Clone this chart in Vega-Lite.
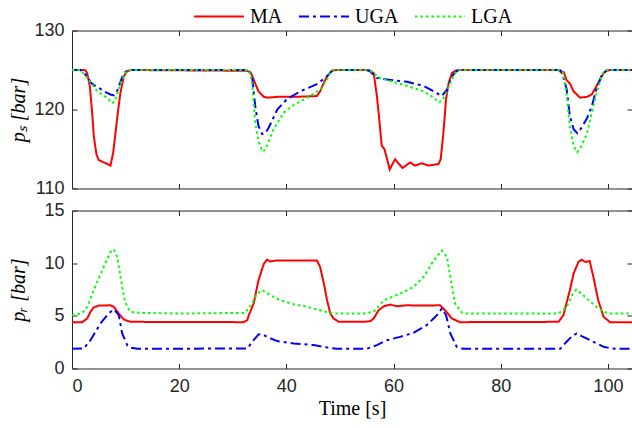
{
  "$schema": "https://vega.github.io/schema/vega-lite/v6.json",
  "background": "white",
  "padding": {"left": 8, "top": -9.5, "right": 0, "bottom": 0},
  "spacing": 2,
  "datasets": {
    "ps": [
      {"t":0,"v":125,"s":"MA"},{"t":2.1,"v":125,"s":"MA"},{"t":2.52,"v":124.95,"s":"MA"},{"t":2.83,"v":124.6,"s":"MA"},{"t":3.33,"v":122.95,"s":"MA"},{"t":3.76,"v":119.6,"s":"MA"},{"t":4.07,"v":116.6,"s":"MA"},{"t":4.57,"v":114.3,"s":"MA"},{"t":5.0,"v":113.6,"s":"MA"},{"t":5.94,"v":113.3,"s":"MA"},{"t":6.6,"v":113.1,"s":"MA"},{"t":7.18,"v":112.9,"s":"MA"},{"t":7.68,"v":114.5,"s":"MA"},{"t":8.11,"v":117.0,"s":"MA"},{"t":8.55,"v":119.6,"s":"MA"},{"t":9.04,"v":122.1,"s":"MA"},{"t":9.67,"v":124.2,"s":"MA"},{"t":10.3,"v":124.85,"s":"MA"},{"t":11.0,"v":125,"s":"MA"},
      {"t":32.7,"v":124.9,"s":"MA"},{"t":33.4,"v":124.6,"s":"MA"},{"t":34.0,"v":123.6,"s":"MA"},{"t":34.8,"v":122.3,"s":"MA"},{"t":35.8,"v":121.6,"s":"MA"},{"t":36.4,"v":121.5,"s":"MA"},{"t":38.3,"v":121.6,"s":"MA"},{"t":41.4,"v":121.6,"s":"MA"},{"t":45.7,"v":121.7,"s":"MA"},{"t":46.3,"v":122.3,"s":"MA"},{"t":47.0,"v":123.4,"s":"MA"},{"t":47.6,"v":124.2,"s":"MA"},{"t":48.5,"v":124.9,"s":"MA"},{"t":49.2,"v":125,"s":"MA"},
      {"t":55.0,"v":125,"s":"MA"},{"t":55.66,"v":124.9,"s":"MA"},{"t":56.3,"v":124.6,"s":"MA"},{"t":56.9,"v":121.7,"s":"MA"},{"t":57.4,"v":118.3,"s":"MA"},{"t":57.8,"v":115.4,"s":"MA"},{"t":58.3,"v":115.0,"s":"MA"},{"t":58.8,"v":113.7,"s":"MA"},{"t":59.3,"v":112.4,"s":"MA"},{"t":59.9,"v":113.2,"s":"MA"},{"t":60.3,"v":113.7,"s":"MA"},{"t":60.9,"v":113.2,"s":"MA"},{"t":61.7,"v":112.6,"s":"MA"},{"t":62.5,"v":113.0,"s":"MA"},{"t":63.1,"v":113.3,"s":"MA"},{"t":64.0,"v":112.9,"s":"MA"},{"t":65.3,"v":113.2,"s":"MA"},{"t":66.5,"v":112.9,"s":"MA"},{"t":68.4,"v":113.1,"s":"MA"},{"t":68.8,"v":113.7,"s":"MA"},{"t":69.3,"v":117.0,"s":"MA"},{"t":69.8,"v":121.3,"s":"MA"},{"t":70.3,"v":123.4,"s":"MA"},{"t":70.9,"v":124.6,"s":"MA"},{"t":71.5,"v":124.9,"s":"MA"},{"t":72.2,"v":125,"s":"MA"},
      {"t":90.8,"v":125,"s":"MA"},{"t":91.4,"v":124.6,"s":"MA"},{"t":91.8,"v":124.7,"s":"MA"},{"t":92.3,"v":123.7,"s":"MA"},{"t":92.9,"v":123.3,"s":"MA"},{"t":93.6,"v":122.3,"s":"MA"},{"t":94.8,"v":121.5,"s":"MA"},{"t":96.1,"v":121.6,"s":"MA"},{"t":97.0,"v":121.9,"s":"MA"},{"t":97.9,"v":123.0,"s":"MA"},{"t":99.2,"v":124.6,"s":"MA"},{"t":99.8,"v":124.9,"s":"MA"},{"t":100.5,"v":125,"s":"MA"},{"t":104.5,"v":125,"s":"MA"},

      {"t":0,"v":125,"s":"UGA"},{"t":1.6,"v":125,"s":"UGA"},{"t":2.83,"v":124.2,"s":"UGA"},{"t":3.5,"v":123.4,"s":"UGA"},{"t":4.07,"v":123.1,"s":"UGA"},{"t":5.32,"v":122.6,"s":"UGA"},{"t":5.94,"v":122.3,"s":"UGA"},{"t":7.18,"v":121.9,"s":"UGA"},{"t":7.8,"v":121.8,"s":"UGA"},{"t":8.4,"v":122.3,"s":"UGA"},{"t":8.74,"v":122.9,"s":"UGA"},{"t":9.2,"v":123.8,"s":"UGA"},{"t":9.67,"v":124.6,"s":"UGA"},{"t":10.3,"v":124.9,"s":"UGA"},{"t":11.0,"v":125,"s":"UGA"},
      {"t":33.0,"v":125,"s":"UGA"},{"t":33.6,"v":124.2,"s":"UGA"},{"t":34.2,"v":120.4,"s":"UGA"},{"t":34.8,"v":117.9,"s":"UGA"},{"t":35.5,"v":116.9,"s":"UGA"},{"t":36.1,"v":117.0,"s":"UGA"},{"t":36.7,"v":117.7,"s":"UGA"},{"t":38.3,"v":120.0,"s":"UGA"},{"t":40.1,"v":121.3,"s":"UGA"},{"t":42.6,"v":122.3,"s":"UGA"},{"t":45.7,"v":123.2,"s":"UGA"},{"t":47.6,"v":124.2,"s":"UGA"},{"t":48.5,"v":124.9,"s":"UGA"},{"t":49.2,"v":125,"s":"UGA"},
      {"t":54.8,"v":125,"s":"UGA"},{"t":55.5,"v":124.9,"s":"UGA"},{"t":56.9,"v":124.0,"s":"UGA"},{"t":58.8,"v":123.8,"s":"UGA"},{"t":62.5,"v":123.5,"s":"UGA"},{"t":65.6,"v":123.0,"s":"UGA"},{"t":67.5,"v":122.3,"s":"UGA"},{"t":69.0,"v":121.7,"s":"UGA"},{"t":69.97,"v":122.5,"s":"UGA"},{"t":70.9,"v":124.2,"s":"UGA"},{"t":71.8,"v":124.9,"s":"UGA"},{"t":72.3,"v":125,"s":"UGA"},
      {"t":91.0,"v":125,"s":"UGA"},{"t":91.4,"v":124.8,"s":"UGA"},{"t":92.3,"v":122.6,"s":"UGA"},{"t":92.9,"v":119.2,"s":"UGA"},{"t":93.6,"v":117.5,"s":"UGA"},{"t":94.3,"v":117.0,"s":"UGA"},{"t":95.1,"v":117.7,"s":"UGA"},{"t":96.1,"v":118.9,"s":"UGA"},{"t":97.0,"v":120.4,"s":"UGA"},{"t":97.9,"v":122.7,"s":"UGA"},{"t":98.9,"v":124.4,"s":"UGA"},{"t":99.8,"v":125,"s":"UGA"},{"t":104.5,"v":125,"s":"UGA"},

      {"t":0,"v":125,"s":"LGA"},{"t":1.6,"v":125,"s":"LGA"},{"t":2.83,"v":124.0,"s":"LGA"},{"t":4.07,"v":122.9,"s":"LGA"},{"t":4.7,"v":122.3,"s":"LGA"},{"t":5.6,"v":121.9,"s":"LGA"},{"t":6.56,"v":121.5,"s":"LGA"},{"t":7.49,"v":120.8,"s":"LGA"},{"t":8.0,"v":121.0,"s":"LGA"},{"t":8.4,"v":121.9,"s":"LGA"},{"t":8.9,"v":122.9,"s":"LGA"},{"t":9.36,"v":123.8,"s":"LGA"},{"t":10.3,"v":124.9,"s":"LGA"},{"t":11.0,"v":125,"s":"LGA"},
      {"t":33.0,"v":125,"s":"LGA"},{"t":33.2,"v":124.6,"s":"LGA"},{"t":33.6,"v":123.4,"s":"LGA"},{"t":34.2,"v":118.3,"s":"LGA"},{"t":34.8,"v":116.0,"s":"LGA"},{"t":35.5,"v":114.7,"s":"LGA"},{"t":36.1,"v":114.9,"s":"LGA"},{"t":36.7,"v":116.0,"s":"LGA"},{"t":37.6,"v":117.5,"s":"LGA"},{"t":39.5,"v":119.6,"s":"LGA"},{"t":41.4,"v":120.6,"s":"LGA"},{"t":43.9,"v":121.5,"s":"LGA"},{"t":46.3,"v":122.5,"s":"LGA"},{"t":47.6,"v":123.8,"s":"LGA"},{"t":48.3,"v":124.9,"s":"LGA"},{"t":49.0,"v":125,"s":"LGA"},
      {"t":55.0,"v":125,"s":"LGA"},{"t":55.66,"v":124.9,"s":"LGA"},{"t":57.5,"v":124.0,"s":"LGA"},{"t":59.4,"v":123.6,"s":"LGA"},{"t":62.5,"v":123.0,"s":"LGA"},{"t":65.6,"v":122.3,"s":"LGA"},{"t":67.5,"v":121.5,"s":"LGA"},{"t":68.4,"v":120.9,"s":"LGA"},{"t":69.0,"v":121.1,"s":"LGA"},{"t":69.6,"v":121.7,"s":"LGA"},{"t":70.6,"v":123.4,"s":"LGA"},{"t":71.5,"v":124.6,"s":"LGA"},{"t":72.1,"v":125,"s":"LGA"},
      {"t":91.2,"v":125,"s":"LGA"},{"t":91.7,"v":124.6,"s":"LGA"},{"t":92.3,"v":121.9,"s":"LGA"},{"t":92.9,"v":117.9,"s":"LGA"},{"t":93.6,"v":115.4,"s":"LGA"},{"t":94.3,"v":114.6,"s":"LGA"},{"t":95.1,"v":115.4,"s":"LGA"},{"t":96.1,"v":117.0,"s":"LGA"},{"t":97.0,"v":119.6,"s":"LGA"},{"t":97.9,"v":122.1,"s":"LGA"},{"t":98.9,"v":124.4,"s":"LGA"},{"t":99.5,"v":125,"s":"LGA"},{"t":104.5,"v":125,"s":"LGA"}
    ],
    "pr": [
      {"t":0,"v":4.4,"s":"MA"},{"t":1.9,"v":4.4,"s":"MA"},{"t":2.83,"v":4.75,"s":"MA"},{"t":3.45,"v":5.38,"s":"MA"},{"t":4.07,"v":5.8,"s":"MA"},{"t":5.0,"v":5.97,"s":"MA"},{"t":7.18,"v":6.0,"s":"MA"},{"t":7.8,"v":5.85,"s":"MA"},{"t":8.74,"v":5.22,"s":"MA"},{"t":9.67,"v":4.65,"s":"MA"},{"t":10.9,"v":4.43,"s":"MA"},
      {"t":32.0,"v":4.4,"s":"MA"},{"t":32.7,"v":4.59,"s":"MA"},{"t":33.0,"v":5.06,"s":"MA"},{"t":33.9,"v":6.17,"s":"MA"},{"t":34.8,"v":8.38,"s":"MA"},{"t":35.8,"v":9.95,"s":"MA"},{"t":36.4,"v":10.33,"s":"MA"},{"t":37.0,"v":10.17,"s":"MA"},{"t":38.3,"v":10.26,"s":"MA"},{"t":45.7,"v":10.26,"s":"MA"},{"t":46.3,"v":9.64,"s":"MA"},{"t":47.0,"v":8.06,"s":"MA"},{"t":47.6,"v":6.48,"s":"MA"},{"t":48.2,"v":5.22,"s":"MA"},{"t":48.8,"v":4.75,"s":"MA"},{"t":49.8,"v":4.43,"s":"MA"},
      {"t":54.4,"v":4.43,"s":"MA"},{"t":55.7,"v":4.5,"s":"MA"},{"t":56.3,"v":4.75,"s":"MA"},{"t":57.2,"v":5.53,"s":"MA"},{"t":58.2,"v":5.91,"s":"MA"},{"t":59.4,"v":6.07,"s":"MA"},{"t":60.6,"v":5.91,"s":"MA"},{"t":62.5,"v":6.0,"s":"MA"},{"t":65.6,"v":5.97,"s":"MA"},{"t":68.7,"v":6.0,"s":"MA"},{"t":69.6,"v":5.53,"s":"MA"},{"t":70.9,"v":4.75,"s":"MA"},{"t":72.4,"v":4.4,"s":"MA"},
      {"t":90.8,"v":4.43,"s":"MA"},{"t":91.7,"v":5.06,"s":"MA"},{"t":92.9,"v":7.43,"s":"MA"},{"t":93.6,"v":9.01,"s":"MA"},{"t":94.5,"v":10.11,"s":"MA"},{"t":95.1,"v":10.33,"s":"MA"},{"t":95.8,"v":10.11,"s":"MA"},{"t":96.6,"v":10.2,"s":"MA"},{"t":97.3,"v":8.68,"s":"MA"},{"t":98.2,"v":6.48,"s":"MA"},{"t":99.2,"v":4.9,"s":"MA"},{"t":100.4,"v":4.4,"s":"MA"},{"t":104.5,"v":4.4,"s":"MA"},

      {"t":0,"v":1.87,"s":"UGA"},{"t":2.2,"v":1.9,"s":"UGA"},{"t":3.45,"v":2.69,"s":"UGA"},{"t":4.4,"v":3.5,"s":"UGA"},{"t":5.32,"v":4.27,"s":"UGA"},{"t":6.3,"v":4.9,"s":"UGA"},{"t":7.18,"v":5.37,"s":"UGA"},{"t":7.68,"v":5.6,"s":"UGA"},{"t":8.2,"v":5.4,"s":"UGA"},{"t":8.74,"v":5.06,"s":"UGA"},{"t":9.36,"v":3.33,"s":"UGA"},{"t":10.3,"v":2.22,"s":"UGA"},{"t":10.9,"v":1.97,"s":"UGA"},{"t":12.2,"v":1.87,"s":"UGA"},
      {"t":32.7,"v":1.9,"s":"UGA"},{"t":33.9,"v":2.69,"s":"UGA"},{"t":34.8,"v":3.23,"s":"UGA"},{"t":35.5,"v":3.26,"s":"UGA"},{"t":36.4,"v":3.0,"s":"UGA"},{"t":38.3,"v":2.6,"s":"UGA"},{"t":41.4,"v":2.38,"s":"UGA"},{"t":45.1,"v":2.22,"s":"UGA"},{"t":47.6,"v":2.0,"s":"UGA"},{"t":49.4,"v":1.87,"s":"UGA"},
      {"t":55.0,"v":1.87,"s":"UGA"},{"t":56.9,"v":2.22,"s":"UGA"},{"t":58.8,"v":2.69,"s":"UGA"},{"t":61.2,"v":3.0,"s":"UGA"},{"t":63.7,"v":3.39,"s":"UGA"},{"t":66.2,"v":4.12,"s":"UGA"},{"t":68.1,"v":5.06,"s":"UGA"},{"t":69.0,"v":5.69,"s":"UGA"},{"t":69.8,"v":5.06,"s":"UGA"},{"t":70.6,"v":3.33,"s":"UGA"},{"t":71.8,"v":2.06,"s":"UGA"},{"t":73.0,"v":1.87,"s":"UGA"},
      {"t":91.1,"v":1.87,"s":"UGA"},{"t":92.3,"v":2.54,"s":"UGA"},{"t":93.3,"v":3.08,"s":"UGA"},{"t":94.2,"v":3.33,"s":"UGA"},{"t":95.1,"v":3.08,"s":"UGA"},{"t":96.4,"v":2.77,"s":"UGA"},{"t":97.9,"v":2.38,"s":"UGA"},{"t":99.2,"v":2.06,"s":"UGA"},{"t":100.4,"v":1.93,"s":"UGA"},{"t":101.6,"v":1.87,"s":"UGA"},{"t":104.5,"v":1.87,"s":"UGA"},

      {"t":0,"v":5.06,"s":"LGA"},{"t":1.58,"v":5.2,"s":"LGA"},{"t":2.52,"v":5.53,"s":"LGA"},{"t":3.3,"v":6.4,"s":"LGA"},{"t":4.07,"v":7.43,"s":"LGA"},{"t":4.85,"v":8.4,"s":"LGA"},{"t":5.63,"v":9.32,"s":"LGA"},{"t":6.4,"v":10.2,"s":"LGA"},{"t":7.18,"v":11.06,"s":"LGA"},{"t":7.8,"v":11.3,"s":"LGA"},{"t":8.42,"v":10.6,"s":"LGA"},{"t":8.9,"v":9.2,"s":"LGA"},{"t":9.36,"v":7.74,"s":"LGA"},{"t":9.8,"v":6.6,"s":"LGA"},{"t":10.3,"v":5.85,"s":"LGA"},{"t":10.9,"v":5.38,"s":"LGA"},{"t":12.8,"v":5.28,"s":"LGA"},{"t":20,"v":5.22,"s":"LGA"},
      {"t":32.3,"v":5.28,"s":"LGA"},{"t":33.6,"v":6.17,"s":"LGA"},{"t":34.5,"v":7.1,"s":"LGA"},{"t":35.5,"v":7.43,"s":"LGA"},{"t":37.0,"v":6.95,"s":"LGA"},{"t":38.9,"v":6.48,"s":"LGA"},{"t":41.4,"v":6.1,"s":"LGA"},{"t":43.9,"v":5.85,"s":"LGA"},{"t":46.3,"v":5.53,"s":"LGA"},{"t":48.2,"v":5.28,"s":"LGA"},{"t":49.4,"v":5.22,"s":"LGA"},
      {"t":54.4,"v":5.22,"s":"LGA"},{"t":56.3,"v":5.38,"s":"LGA"},{"t":58.2,"v":6.48,"s":"LGA"},{"t":61.2,"v":7.1,"s":"LGA"},{"t":63.7,"v":7.74,"s":"LGA"},{"t":65.6,"v":8.68,"s":"LGA"},{"t":67.5,"v":10.26,"s":"LGA"},{"t":69.0,"v":11.2,"s":"LGA"},{"t":69.97,"v":10.58,"s":"LGA"},{"t":70.6,"v":8.68,"s":"LGA"},{"t":71.5,"v":6.17,"s":"LGA"},{"t":72.8,"v":5.28,"s":"LGA"},{"t":73.7,"v":5.22,"s":"LGA"},
      {"t":90.8,"v":5.22,"s":"LGA"},{"t":92.3,"v":5.85,"s":"LGA"},{"t":93.3,"v":6.95,"s":"LGA"},{"t":94.1,"v":7.49,"s":"LGA"},{"t":95.1,"v":7.1,"s":"LGA"},{"t":96.4,"v":6.48,"s":"LGA"},{"t":97.9,"v":5.85,"s":"LGA"},{"t":99.2,"v":5.38,"s":"LGA"},{"t":100.4,"v":5.22,"s":"LGA"},{"t":104.5,"v":5.22,"s":"LGA"}
    ]
  },
  "config": {
    "view": {"stroke": "#262626", "strokeWidth": 1},
    "axis": {"grid": false, "domain": false, "tickSize": -5, "tickColor": "#262626", "tickWidth": 1, "labelFont": "Liberation Sans", "labelFontSize": 18, "labelColor": "#262626", "labelPadding": 13, "titleFont": "Liberation Serif", "titleFontSize": 20, "titleFontWeight": "normal", "titleColor": "#000000"}
  },
  "resolve": {"scale": {"y": "independent", "color": "shared", "strokeDash": "shared", "strokeWidth": "shared"}},
  "vconcat": [
    {
      "width": 560, "height": 158,
      "data": {"name": "ps"},
      "layer": [
        {
          "mark": {"type": "line", "clip": true},
          "encoding": {
            "x": {"field": "t", "type": "quantitative", "scale": {"domain": [0, 104.5], "nice": false, "zero": false}, "axis": {"orient": "bottom", "values": [0,20,40,60,80,100], "labels": false, "title": null, "minExtent": 0, "maxExtent": 0}},
            "y": {"field": "v", "type": "quantitative", "scale": {"domain": [110, 130], "nice": false, "zero": false}, "axis": {"orient": "left", "values": [110,120,130], "title": "pₛ [bar]", "titleFontStyle": "italic", "titlePadding": 5}},
            "color": {"field": "s", "type": "nominal", "scale": {"domain": ["MA","UGA","LGA"], "range": ["#ff0000","#0000ff","#00ff00"]},
              "legend": {"title": null, "orient": "none", "legendX": 121, "legendY": -40, "direction": "horizontal", "symbolType": "stroke", "symbolSize": 2500, "labelFont": "Liberation Serif", "labelFontSize": 20, "labelColor": "#000000", "labelOffset": 5, "columnPadding": 12, "padding": 0}},
            "strokeDash": {"field": "s", "type": "nominal", "scale": {"domain": ["MA","UGA","LGA"], "range": [[1,0],[10,4,3,4],[2.5,3]]}},
            "strokeWidth": {"field": "s", "type": "ordinal", "scale": {"domain": ["MA","UGA","LGA"], "range": [2,2,3]}}
          }
        },
        {
          "mark": {"type": "point", "opacity": 0},
          "encoding": {
            "x": {"field": "t", "type": "quantitative", "axis": {"orient": "top", "values": [0,20,40,60,80,100], "labels": false, "title": null, "minExtent": 0, "maxExtent": 0}},
            "y": {"field": "v", "type": "quantitative", "axis": {"orient": "right", "values": [110,120,130], "labels": false, "title": null, "minExtent": 0, "maxExtent": 0}}
          }
        }
      ]
    },
    {
      "width": 560, "height": 158,
      "data": {"name": "pr"},
      "layer": [
        {
          "mark": {"type": "line", "clip": true},
          "encoding": {
            "x": {"field": "t", "type": "quantitative", "scale": {"domain": [0, 104.5], "nice": false, "zero": false}, "axis": {"orient": "bottom", "values": [0,20,40,60,80,100], "title": "Time [s]", "titlePadding": 3, "labelPadding": 14}},
            "y": {"field": "v", "type": "quantitative", "scale": {"domain": [0, 15], "nice": false, "zero": false}, "axis": {"orient": "left", "values": [0,5,10,15], "title": "pᵣ [bar]", "titleFontStyle": "italic", "titlePadding": 15}},
            "color": {"field": "s", "type": "nominal", "scale": {"domain": ["MA","UGA","LGA"], "range": ["#ff0000","#0000ff","#00ff00"]},
              "legend": {"title": null, "orient": "none", "legendX": 121, "legendY": -40, "direction": "horizontal", "symbolType": "stroke", "symbolSize": 2500, "labelFont": "Liberation Serif", "labelFontSize": 20, "labelColor": "#000000", "labelOffset": 5, "columnPadding": 12, "padding": 0}},
            "strokeDash": {"field": "s", "type": "nominal", "scale": {"domain": ["MA","UGA","LGA"], "range": [[1,0],[10,4,3,4],[2.5,3]]}},
            "strokeWidth": {"field": "s", "type": "ordinal", "scale": {"domain": ["MA","UGA","LGA"], "range": [2,2,3]}}
          }
        },
        {
          "mark": {"type": "point", "opacity": 0},
          "encoding": {
            "x": {"field": "t", "type": "quantitative", "axis": {"orient": "top", "values": [0,20,40,60,80,100], "labels": false, "title": null, "minExtent": 0, "maxExtent": 0}},
            "y": {"field": "v", "type": "quantitative", "axis": {"orient": "right", "values": [0,5,10,15], "labels": false, "title": null, "minExtent": 0, "maxExtent": 0}}
          }
        }
      ]
    }
  ]
}
